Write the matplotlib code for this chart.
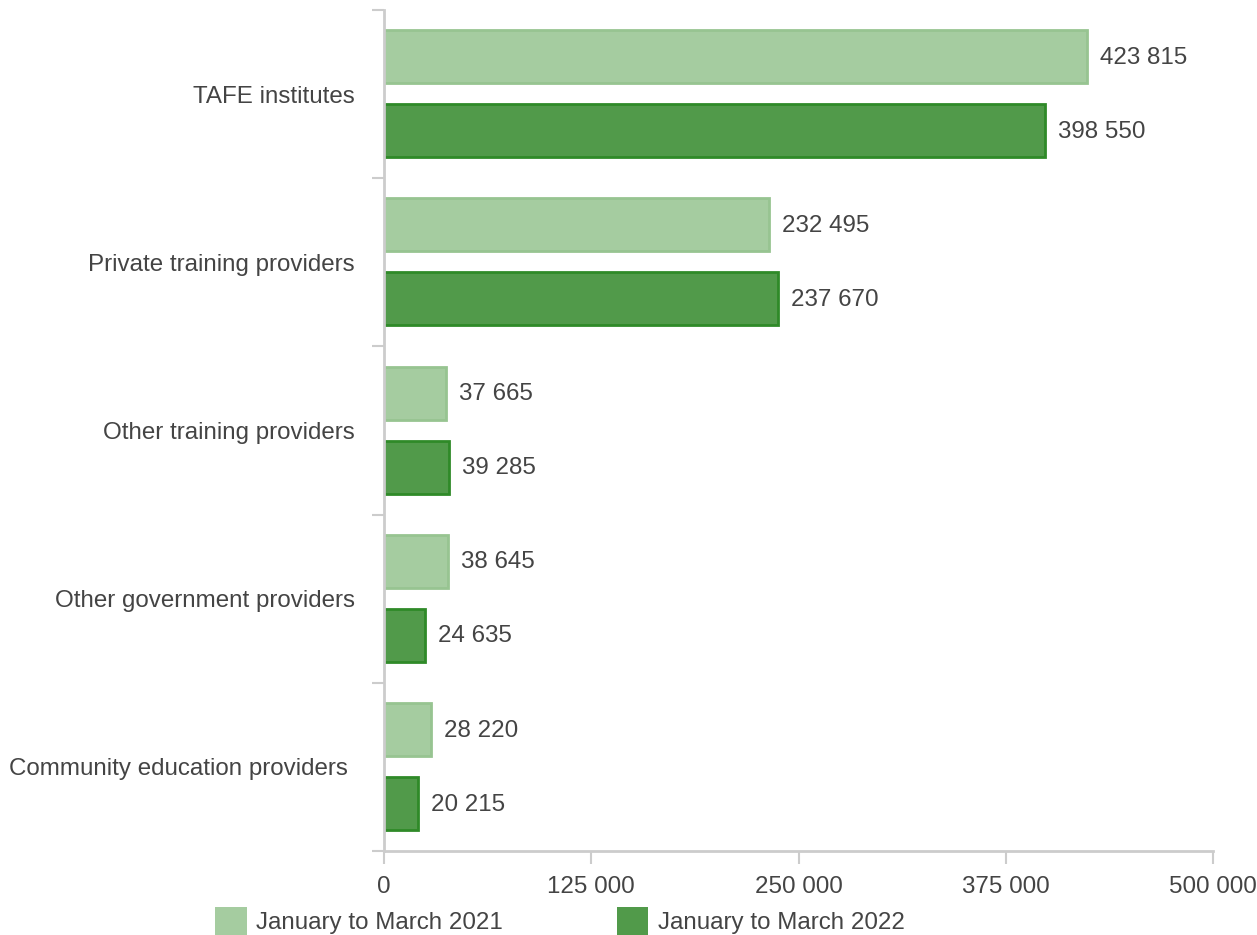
import numpy as np
import matplotlib.pyplot as plt
from matplotlib.patches import Patch

plt.rcParams['font.family'] = ['Liberation Sans', 'DejaVu Sans']

categories = ['TAFE institutes', 'Private training providers', 'Other training providers',
              'Other government providers', 'Community education providers ']
v2021 = [423815, 232495, 37665, 38645, 28220]
v2022 = [398550, 237670, 39285, 24635, 20215]
series = ['January to March 2021', 'January to March 2022']
xticks = [0, 125000, 250000, 375000, 500000]

light, light_edge = '#a5cca0', '#97c491'
dark, dark_edge = '#519a4a', '#2f8a28'
txt = '#444444'
axc = '#cccccc'
fs = 17.4

fig = plt.figure(figsize=(12.57, 9.35), dpi=100)
ax = fig.add_axes([384/1257, 84/935, 829/1257, 841/935])

y = np.arange(len(categories))
h = 0.315
ax.barh(y - 0.222, v2021, height=h, color=light, edgecolor=light_edge, linewidth=2)
ax.barh(y + 0.218, v2022, height=h, color=dark, edgecolor=dark_edge, linewidth=2)

fmt = lambda v: f'{v:,}'.replace(',', ' ')
for i in range(len(categories)):
    ax.annotate(fmt(v2021[i]), (v2021[i], y[i] - 0.222), xytext=(13, -1), textcoords='offset pixels',
                va='center', ha='left', fontsize=fs, color=txt)
    ax.annotate(fmt(v2022[i]), (v2022[i], y[i] + 0.218), xytext=(13, -1), textcoords='offset pixels',
                va='center', ha='left', fontsize=fs, color=txt)

ax.set_xlim(0, 500000)
ax.set_ylim(len(categories) - 0.5, -0.5)
ax.set_xticks(xticks)
ax.set_xticklabels([fmt(t) for t in xticks], fontsize=fs, color=txt)
ax.set_yticks(y)
ax.set_yticklabels(categories, fontsize=fs, color=txt)
ax.set_yticks(np.arange(-0.5, len(categories), 1), minor=True)
ax.tick_params(axis='y', which='major', length=0, pad=21)
ax.tick_params(axis='y', which='minor', length=9, width=1.5, color=axc)
ax.tick_params(axis='x', length=9, width=1.5, color=axc, pad=9)

for s in ['top', 'right']:
    ax.spines[s].set_visible(False)
for s in ['left', 'bottom']:
    ax.spines[s].set_color(axc)
    ax.spines[s].set_linewidth(2)

handles = [Patch(facecolor=light, edgecolor='none'), Patch(facecolor=dark, edgecolor='none')]
leg = fig.legend(handles, series, loc='lower center', bbox_to_anchor=(560/1257, -0.024), ncol=2,
                 frameon=False, fontsize=fs, handlelength=1.3, handleheight=1.45,
                 handletextpad=0.4, columnspacing=4.7)
for t in leg.get_texts():
    t.set_color(txt)

fig.savefig('out.png', dpi=100)
